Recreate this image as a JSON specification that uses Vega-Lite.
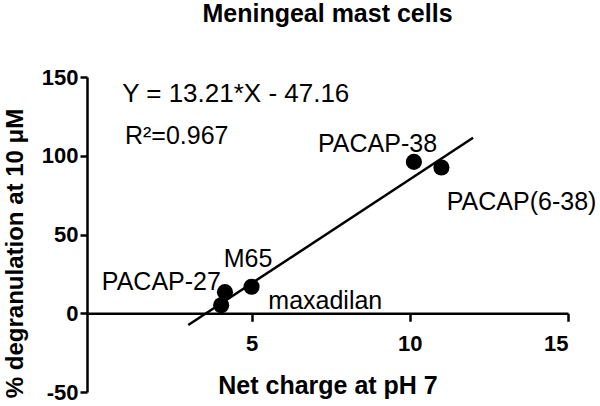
{
  "$schema": "https://vega.github.io/schema/vega-lite/v6.json",
  "width": 481,
  "height": 315,
  "autosize": {"type": "none"},
  "padding": {"left": 87, "top": 77, "right": 32, "bottom": 14},
  "title": {
    "text": "Meningeal mast cells",
    "font": "Liberation Sans",
    "fontSize": 25,
    "fontWeight": "bold",
    "color": "black",
    "anchor": "middle",
    "frame": "group",
    "baseline": "alphabetic",
    "offset": 19
  },
  "config": {"view": {"stroke": null}, "font": "Liberation Sans"},
  "datasets": {
    "fit": [
      {"x": 3.0, "y": -7.5},
      {"x": 12.0, "y": 111.4}
    ],
    "points": [
      {"x": 4.16, "y": 13.4, "peptide": "PACAP-27"},
      {"x": 4.04, "y": 5.1, "peptide": "maxadilan"},
      {"x": 5.0, "y": 16.8, "peptide": "M65"},
      {"x": 10.13, "y": 96.1, "peptide": "PACAP-38"},
      {"x": 11.0, "y": 92.5, "peptide": "PACAP(6-38)"}
    ],
    "equation": [
      {"x": 0.91, "y": 134.3, "label": "Y = 13.21*X - 47.16"}
    ],
    "labels": [
      {"x": 1.0, "y": 107.5, "label": "R²=0.967"},
      {"x": 7.1, "y": 102.6, "label": "PACAP-38"},
      {"x": 11.17, "y": 65.6, "label": "PACAP(6-38)"},
      {"x": 4.12, "y": 29.6, "label": "M65"},
      {"x": 0.27, "y": 14.8, "label": "PACAP-27"},
      {"x": 5.53, "y": 3.0, "label": "maxadilan"}
    ]
  },
  "encoding": {
    "x": {
      "field": "x",
      "type": "quantitative",
      "scale": {"domain": [-0.2, 15], "nice": false, "zero": false},
      "axis": {
        "title": "Net charge at pH 7",
        "values": [5, 10, 15],
        "offset": -78.75,
        "grid": false,
        "domainColor": "black",
        "domainWidth": 2.5,
        "tickColor": "black",
        "tickWidth": 2.5,
        "tickSize": 8,
        "labelFont": "Liberation Sans",
        "labelFontSize": 22,
        "labelFontWeight": "bold",
        "labelColor": "black",
        "labelPadding": 12,
        "titleFont": "Liberation Sans",
        "titleFontSize": 25,
        "titleFontWeight": "bold",
        "titleColor": "black",
        "titlePadding": 19
      }
    },
    "y": {
      "field": "y",
      "type": "quantitative",
      "scale": {"domain": [-50, 150], "nice": false},
      "axis": {
        "title": "% degranulation at 10 μM",
        "values": [-50, 0, 50, 100, 150],
        "labelExpr": "datum.value < 0 ? '-' + abs(datum.value) : datum.label",
        "grid": false,
        "domainColor": "black",
        "domainWidth": 2.5,
        "tickColor": "black",
        "tickWidth": 2.5,
        "tickSize": 7,
        "labelFont": "Liberation Sans",
        "labelFontSize": 22,
        "labelFontWeight": "bold",
        "labelColor": "black",
        "labelPadding": 2,
        "titleFont": "Liberation Sans",
        "titleFontSize": 24,
        "titleFontWeight": "bold",
        "titleColor": "black",
        "titlePadding": 14,
        "titleY": 176,
        "titleAlign": "center"
      }
    }
  },
  "layer": [
    {
      "data": {"name": "fit"},
      "mark": {"type": "line", "color": "black", "strokeWidth": 2.5}
    },
    {
      "data": {"name": "points"},
      "mark": {"type": "circle", "color": "black", "opacity": 1, "size": 260}
    },
    {
      "data": {"name": "equation"},
      "mark": {
        "type": "text",
        "align": "left",
        "baseline": "alphabetic",
        "font": "Liberation Sans",
        "fontSize": 26,
        "color": "black"
      },
      "encoding": {"text": {"field": "label", "type": "nominal"}}
    },
    {
      "data": {"name": "labels"},
      "mark": {
        "type": "text",
        "align": "left",
        "baseline": "alphabetic",
        "font": "Liberation Sans",
        "fontSize": 25,
        "color": "black"
      },
      "encoding": {"text": {"field": "label", "type": "nominal"}}
    }
  ]
}
